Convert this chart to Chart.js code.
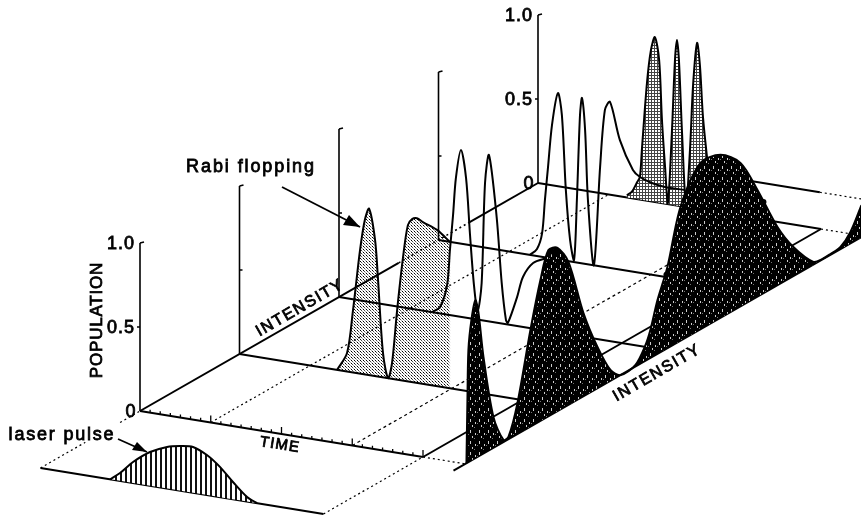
<!DOCTYPE html>
<html>
<head>
<meta charset="utf-8">
<title>Rabi flopping</title>
<style>
  html, body { margin: 0; padding: 0; background: #fff; }
  #wrap { width: 861px; height: 515px; }
</style>
<script src="https://cdn.jsdelivr.net/npm/chart.js@4"></script>
</head>
<body>
<div id="wrap"><canvas id="rabiChart" width="861" height="515"></canvas></div>
<script>
(function () {
  "use strict";

  // tick labels and titles
  const populationTicks = [0, 0.5, 1];
  const populationTickLabels = ["0", "0.5", "1.0"];
  const intensityPlanes = [0, 1, 2, 3, 4];
  const timeMajorTicks = [0.25, 0.5, 0.75, 1];

  // population against time, one pair of lists per intensity plane
  const pulseTime = [0.246, 0.281, 0.327, 0.387, 0.447, 0.493, 0.539, 0.588, 0.634, 0.68, 0.73, 0.765];
  const pulseLevel = [0, 0.047, 0.125, 0.201, 0.248, 0.266, 0.273, 0.238, 0.18, 0.103, 0.027, 0];

  const plane1Time = [0.345, 0.38, 0.401, 0.426, 0.443, 0.458, 0.479, 0.489, 0.507, 0.525, 0.539, 0.557, 0.578, 0.595, 0.61, 0.627, 0.648, 0.698, 0.744];
  const plane1Pop = [0, 0.11, 0.37, 0.736, 0.92, 0.99, 0.81, 0.59, 0.145, 0, 0.094, 0.414, 0.736, 0.93, 0.97, 0.98, 0.963, 0.93, 0.87];

  const plane2Time = [0.329, 0.357, 0.382, 0.392, 0.403, 0.413, 0.431, 0.449, 0.463, 0.477, 0.49, 0.504, 0.516, 0.53, 0.557, 0.575, 0.59, 0.597, 0.629, 0.65, 0.686, 0.735, 0.756];
  const plane2Pop = [0, 0.038, 0.176, 0.387, 0.598, 0.82, 0.993, 0.83, 0.496, 0.2, 0.05, 0.22, 0.82, 0.99, 0.63, 0.24, 0.024, 0.01, 0.17, 0.297, 0.39, 0.433, 0.45];

  const plane3Time = [0.323, 0.348, 0.366, 0.376, 0.387, 0.401, 0.422, 0.436, 0.45, 0.465, 0.479, 0.489, 0.5, 0.507, 0.518, 0.528, 0.549, 0.571, 0.588, 0.606, 0.641, 0.687, 0.712, 0.754, 0.8, 0.871];
  const plane3Pop = [0, 0.042, 0.14, 0.34, 0.54, 0.794, 0.99, 0.863, 0.42, 0.127, 0.012, 0.372, 0.88, 0.984, 0.796, 0.383, 0, 0.59, 0.935, 0.988, 0.77, 0.605, 0.57, 0.546, 0.535, 0.536];

  const plane4Time = [0.314, 0.332, 0.35, 0.36, 0.367, 0.385, 0.399, 0.413, 0.428, 0.438, 0.449, 0.459, 0.473, 0.484, 0.491, 0.498, 0.509, 0.523, 0.537, 0.548, 0.562, 0.572, 0.583, 0.601, 0.615];
  const plane4Pop = [0.014, 0.04, 0.1, 0.135, 0.297, 0.7, 0.9, 0.982, 0.85, 0.495, 0.218, 0.007, 0.427, 0.865, 0.986, 0.868, 0.437, 0.012, 0.343, 0.733, 0.987, 0.86, 0.552, 0.26, 0.067];

  // population against intensity on the end wall
  const wallIntensity = [0.01, 0.02, 0.03, 0.06, 0.1, 0.13, 0.181, 0.281, 0.382, 0.432, 0.523, 0.653, 0.754, 0.834, 0.925, 1.035, 1.186, 1.327, 1.457, 1.558, 1.709, 1.81, 1.859, 1.93, 2.03, 2.161, 2.362, 2.563, 2.764, 2.935, 3.136, 3.296, 3.497, 3.588, 3.668, 3.769, 3.869, 3.98];
  const wallPop = [0, 0.374, 0.67, 0.837, 0.94, 0.86, 0.576, 0.184, 0.013, 0.014, 0.186, 0.576, 0.84, 0.99, 0.972, 0.851, 0.496, 0.246, 0.065, 0, 0.01, 0.094, 0.167, 0.32, 0.484, 0.796, 0.99, 0.97, 0.854, 0.635, 0.346, 0.173, 0.016, 0.003, 0.005, 0.013, 0.068, 0.19];

  const wallDotIntensity = [0.884, 2.02, 2.995];
  const wallDotPop = [0.962, 0.44, 0.543];

  const WALL_TIME = 1.15;

  // oblique projection of (time, intensity, population) on the picture
  function project(t, i, p) {
    return { x: 140 + 283 * t + 99.5 * i, y: 411 + 46 * t - 57 * i - 168 * p };
  }

  function planeCurve(times, pops, plane) {
    return times.map((t, n) => project(t, plane, pops[n]));
  }

  function wallCurve(values, pops) {
    return values.map((v, n) => project(WALL_TIME, v, pops[n]));
  }

  function closeShape(points, first, last) {
    // doubled corners keep the spline sharp there
    const end = points[points.length - 1];
    return [points[0], ...points, end, last, last, first, first, points[0]];
  }

  function tile(size, draw) {
    const c = document.createElement("canvas");
    c.width = size[0];
    c.height = size[1];
    draw(c.getContext("2d"));
    return c.getContext("2d").createPattern(c, "repeat");
  }

  const dotsFill = tile([3, 3], (g) => {
    g.fillStyle = "#000";
    g.fillRect(0, 0, 1, 1);
    g.fillStyle = "rgba(0,0,0,0.7)";
    g.fillRect(1, 1, 1, 1);
    g.fillStyle = "rgba(0,0,0,0.35)";
    g.fillRect(2, 2, 1, 1);
  });

  const gridFill = tile([3, 3], (g) => {
    g.fillStyle = "#fff";
    g.fillRect(0, 0, 3, 3);
    g.fillStyle = "#444";
    g.fillRect(0, 0, 3, 1);
    g.fillRect(0, 0, 1, 3);
  });

  const stripeFill = tile([5, 1], (g) => {
    g.fillStyle = "#fff";
    g.fillRect(0, 0, 5, 1);
    g.fillStyle = "#111";
    g.fillRect(0, 0, 2, 1);
  });

  const darkFill = tile([9, 11], (g) => {
    g.fillStyle = "#000";
    g.fillRect(0, 0, 9, 11);
    g.fillStyle = "rgba(255,255,255,0.8)";
    g.fillRect(2, 1, 1, 3);
    g.fillRect(7, 4, 1, 2);
    g.fillRect(4, 7, 1, 2);
    g.fillStyle = "rgba(255,255,255,0.45)";
    g.fillRect(0, 5, 1, 1);
    g.fillRect(6, 9, 1, 1);
  });

  const datasets = [];

  function addLine(points, width, dash) {
    datasets.push({
      data: points,
      showLine: true,
      fill: false,
      pointRadius: 0,
      borderColor: "#000",
      borderWidth: width,
      borderDash: dash || [],
      tension: 0,
      borderCapStyle: "butt",
      order: -datasets.length
    });
  }

  function addCurve(points) {
    datasets.push({
      data: points,
      showLine: true,
      fill: false,
      pointRadius: 0,
      borderColor: "#000",
      borderWidth: 2,
      tension: 0.3,
      capBezierPoints: false,
      order: -datasets.length
    });
  }

  function addShape(points, pattern) {
    datasets.push({
      data: points,
      showLine: true,
      fill: "shape",
      backgroundColor: pattern,
      pointRadius: 0,
      borderWidth: 0,
      borderColor: "rgba(0,0,0,0)",
      tension: 0.3,
      capBezierPoints: false,
      order: -datasets.length
    });
  }

  const DOTTED = [2, 3];

  // floor of the picture
  addLine([project(0, 0, 0), project(0, 2.6, 0)], 2);
  addLine([project(0, 2.6, 0), project(0, 3.3, 0)], 1.5, DOTTED);
  addLine([project(0, 3.3, 0), project(0, 4, 0)], 2);
  addLine([project(0.25, 0, 0), project(0.25, 4, 0)], 1.2, DOTTED);
  addLine([project(0.75, 0, 0), project(0.75, 4, 0)], 1.2, [3, 3]);

  // population axes, one per plane
  intensityPlanes.forEach((plane) => {
    addLine([project(0, plane, 0), project(0, plane, 1)], 1.6);
    const top = project(0, plane, 1);
    const mid = project(0, plane, 0.5);
    addLine([top, { x: top.x + 4, y: top.y - 1 }], 1.5);
    addLine([mid, { x: mid.x + (plane === 0 || plane === 4 ? -3 : 3), y: mid.y }], 1.5);
  });

  // time axis with its ticks
  addLine([project(0, 0, 0), project(1, 0, 0)], 2);
  const timeTicks = [];
  for (let n = 1; n <= 28; n++) {
    const t = n / 28;
    const h = timeMajorTicks.includes(t) ? 7 : 3;
    const foot = project(t, 0, 0);
    timeTicks.push(foot, { x: foot.x, y: foot.y - h }, { x: NaN, y: NaN });
  }
  addLine(timeTicks, 1.3);

  // back plane, filled peaks
  addLine([project(0, 4, 0), project(1, 4, 0)], 2);
  addLine([project(1, 4, 0), project(WALL_TIME, 4, 0)], 1.2, DOTTED);
  addLine([project(0.5, 4.5, 0), project(0.82, 4.5, 0)], 2);
  addLine([project(0.82, 4.5, 0), project(0.97, 4.5, 0)], 1.2, DOTTED);
  const plane4 = planeCurve(plane4Time, plane4Pop, 4);
  addShape(closeShape(plane4, project(plane4Time[0], 4, 0), project(plane4Time[plane4Time.length - 1], 4, 0)), gridFill);
  addCurve(plane4);

  // open planes
  addLine([project(0, 3, 0), project(WALL_TIME, 3, 0)], 2);
  addCurve(planeCurve(plane3Time, plane3Pop, 3));
  addLine([project(0, 2, 0), project(WALL_TIME, 2, 0)], 2);
  addCurve(planeCurve(plane2Time, plane2Pop, 2));

  // front plane with the light fill
  addLine([project(0, 1, 0), project(WALL_TIME, 1, 0)], 2);
  const plane1 = planeCurve(plane1Time, plane1Pop, 1);
  addShape(closeShape(plane1, project(plane1Time[0], 1, 0), project(plane1Time[plane1Time.length - 1], 1, 0)), dotsFill);
  addCurve(plane1);

  // right edge of the floor and the dotted lead to the wall
  addLine([project(1, 0, 0), project(1, 4, 0)], 2);
  addLine([project(1, 0, 0), project(WALL_TIME, 0, 0)], 1.2, DOTTED);

  // end wall
  addLine([project(WALL_TIME, -0.12, 0), project(WALL_TIME, 4.1, 0)], 2);
  const wall = wallCurve(wallIntensity, wallPop);
  addShape(closeShape(wall, project(WALL_TIME, 0.01, 0), project(WALL_TIME, 3.98, 0)), darkFill);
  addCurve(wall);
  datasets.push({
    data: wallCurve(wallDotIntensity, wallDotPop),
    showLine: false,
    pointRadius: 3,
    pointBackgroundColor: "#000",
    pointBorderWidth: 0,
    order: -datasets.length
  });

  // laser pulse strip
  addLine([project(0, -1, 0), project(1, -1, 0)], 2);
  addLine([project(0, -1, 0), project(0, -0.55, 0)], 1.2, DOTTED);
  addLine([project(0, -0.2, 0), project(0, 0, 0)], 1.2, DOTTED);
  addLine([project(1, -1, 0), project(1, 0, 0)], 1.2, DOTTED);
  const pulse = planeCurve(pulseTime, pulseLevel, -1);
  addShape(closeShape(pulse, project(pulseTime[0], -1, 0), project(pulseTime[pulseTime.length - 1], -1, 0)), stripeFill);
  addCurve(pulse);

  // arrows
  function addArrow(from, to, wing) {
    addLine([from, to], 1.8);
    datasets.push({
      data: [to, wing[0], wing[1], to],
      showLine: true,
      fill: "shape",
      backgroundColor: "#000",
      pointRadius: 0,
      borderWidth: 0,
      tension: 0,
      order: -datasets.length
    });
  }
  addArrow({ x: 282, y: 187 }, { x: 360, y: 227 }, [{ x: 343, y: 225 }, { x: 349, y: 215 }]);
  addArrow({ x: 118, y: 439 }, { x: 147, y: 452 }, [{ x: 132, y: 450 }, { x: 137, y: 442 }]);

  const textPlugin = {
    id: "pictureText",
    afterDraw(chart) {
      const ctx = chart.ctx;
      const put = (text, x, y, size, angle, spacing) => {
        ctx.save();
        ctx.translate(x, y);
        ctx.rotate(angle * Math.PI / 180);
        ctx.font = size + 'px "Liberation Sans", Arial, sans-serif';
        ctx.letterSpacing = spacing + "px";
        ctx.textAlign = "center";
        ctx.textBaseline = "middle";
        ctx.fillStyle = "#000";
        ctx.strokeStyle = "#000";
        ctx.lineWidth = 0.8;
        ctx.fillText(text, 0, 0);
        ctx.strokeText(text, 0, 0);
        ctx.restore();
      };

      [0, 4].forEach((plane) => {
        populationTicks.forEach((p, n) => {
          const at = project(0, plane, p);
          const half = populationTickLabels[n].length > 1 ? 19 : 9;
          put(populationTickLabels[n], at.x - half, at.y + 1, 18, 0, 1);
        });
      });

      put("POPULATION", 97, 320, 17, -90, 0.8);
      put("INTENSITY", 300, 308, 16, -30, 1.7);
      put("INTENSITY", 657, 373, 16, -30, 1.7);
      put("TIME", 280, 445, 15, 9, 1.2);
      put("Rabi flopping", 251, 167, 18, 0, 1.9);
      put("laser pulse", 62, 435, 18, 0, 1.8);
    }
  };

  new Chart(document.getElementById("rabiChart"), {
    type: "scatter",
    data: { datasets },
    options: {
      responsive: false,
      animation: false,
      events: [],
      layout: { padding: 0, autoPadding: false },
      plugins: {
        legend: { display: false },
        tooltip: { enabled: false },
        title: { display: false },
        filler: { drawTime: "beforeDatasetDraw", propagate: false }
      },
      scales: {
        x: { type: "linear", min: 0, max: 861, display: false },
        y: { type: "linear", min: 0, max: 515, reverse: true, display: false }
      }
    },
    plugins: [textPlugin]
  });
})();
</script>
</body>
</html>
